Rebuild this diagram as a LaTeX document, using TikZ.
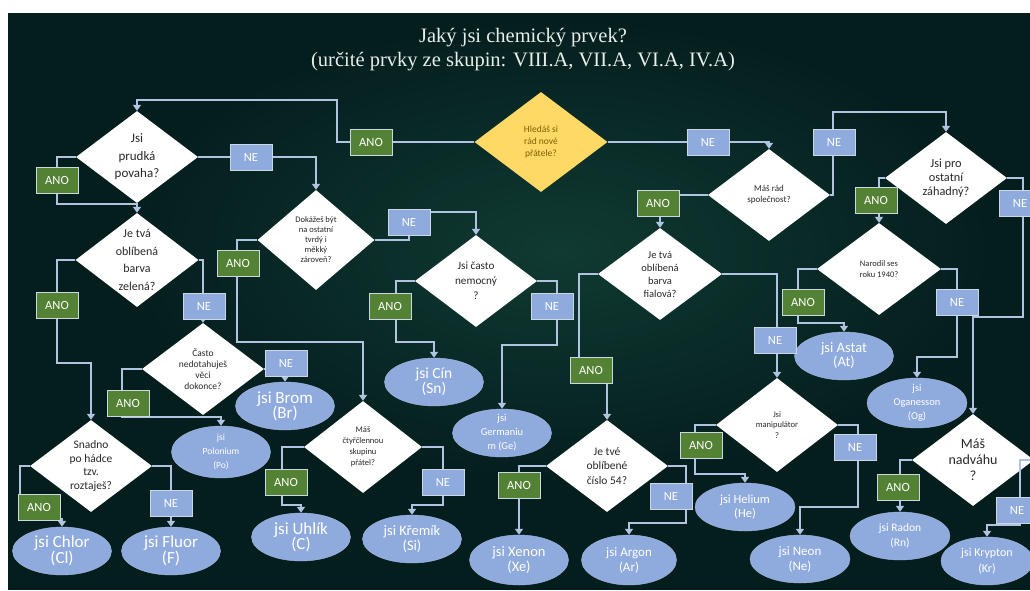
\documentclass[tikz,border=0pt]{standalone}
\usepackage{fontspec}
\setmainfont{Carlito}
\newfontfamily\titlefont{Liberation Serif}
\usetikzlibrary{arrows.meta, shapes.geometric}
\definecolor{BgDark}{RGB}{4,30,30}
\definecolor{BgGlow}{RGB}{16,58,50}
\definecolor{LineBlue}{RGB}{176,196,226}
\definecolor{AnoGreen}{RGB}{84,130,53}
\definecolor{NeBlue}{RGB}{143,170,220}
\definecolor{ResBlue}{RGB}{143,170,220}
\definecolor{BoxEdge}{RGB}{205,215,228}
\definecolor{StartYellow}{RGB}{255,217,102}
\definecolor{StartText}{RGB}{127,96,0}
\definecolor{QuestText}{RGB}{40,40,40}
\definecolor{TitleWhite}{RGB}{232,238,234}
\lineskiplimit=-20pt

\begin{document}
\begin{tikzpicture}[
    x=1pt, y=-1pt,
    fs/.style 2 args={font=\fontsize{#1}{#2}\selectfont},
    question/.style={diamond, fill=white, text=QuestText, align=center,
        minimum width=122pt, minimum height=92pt, inner sep=-60pt},
    result/.style={ellipse, fill=ResBlue, draw=ResBlue!80!white, text=white,
        align=center, minimum width=99pt, minimum height=48pt, inner sep=-60pt},
    answer/.style={draw=BoxEdge, line width=1pt, text=white, inner sep=0pt,
        minimum width=42pt, minimum height=26pt, font=\fontsize{12.5}{14}\selectfont},
    ano/.style={answer, fill=AnoGreen},
    ne/.style={answer, fill=NeBlue},
    flow/.style={-{Triangle[length=6pt, width=8pt]}, line width=2.5pt, LineBlue},
]
\useasboundingbox (0,0) rectangle (1030,590);

% pozadi
\fill[white] (0,0) rectangle (1030,590);
\fill[BgDark] (8,13) rectangle (1030,590);
\shade[inner color=BgGlow, outer color=BgDark] (560,250) ellipse [x radius=430pt, y radius=230pt];

% nadpis
\node[font=\titlefont\fontsize{20.5}{22}\selectfont, text=TitleWhite] (title) at (523,38)
    {Jaký jsi chemický prvek?};
\node[font=\titlefont\fontsize{20.5}{22}\selectfont, text=TitleWhite] (subtitle) at (523,62)
    {(určité prvky ze skupin: VIII.A, VII.A, VI.A, IV.A)};

% otazky
\node[question, fill=StartYellow, text=StartText, minimum width=133pt,
      minimum height=100pt, fs={9.5}{12}] (start) at (541,142) {Hledáš si\\rád nové\\přátele?};
\node[question, fs={13}{17.5}] (prudka) at (137,157) {Jsi\\prudká\\povaha?};
\node[question, minimum width=123pt, minimum height=94pt, fs={12}{17.5}] (zelena) at (137,260)
    {Je tvá\\oblíbená\\barva\\zelená?};
\node[question, minimum width=117pt, minimum height=100pt, fs={8.5}{10}] (tvrdy) at (316,240)
    {Dokážeš být\\na ostatní\\tvrdý i\\měkký\\zároveň?};
\node[question, fs={11.2}{15}] (nemocny) at (476,281) {Jsi často\\nemocný\\?};
\node[question, minimum width=124pt, fs={10.5}{13}] (fialova) at (660,274)
    {Je tvá\\oblíbená\\barva\\fialová?};
\node[question, fs={9}{11}] (spol) at (769,195) {Máš rád\\společnost?};
\node[question, fs={12.3}{14}] (zahadny) at (946,178) {Jsi pro\\ostatní\\záhadný?};
\node[question, minimum width=124pt, fs={8.5}{10.5}] (r1940) at (879,269) {Narodil ses\\roku 1940?};
\node[question, fs={9.5}{11}] (casto) at (203,369) {Často\\nedotahuješ\\věci\\dokonce?};
\node[question, fs={11.5}{13.5}] (hadka) at (91,466) {Snadno\\po hádce\\tzv.\\roztaješ?};
\node[question, minimum width=118pt, fs={8.5}{11}] (ctyr) at (363,447)
    {Máš\\čtyřčlennou\\skupinu\\přátel?};
\node[question, fs={11.5}{14.5}] (cislo) at (607,466) {Je tvé\\oblíbené\\číslo 54?};
\node[question, minimum height=94pt, fs={8.5}{10.5}] (manip) at (777,425) {Jsi\\manipulátor\\?};
\node[question, fs={14}{16}] (nadvaha) at (973,460) {Máš\\nadváhu\\?};

% vysledky
\node[result, fs={17}{15}] (brom) at (285,406) {jsi Brom\\(Br)};
\node[result, minimum height=52pt, fs={9.5}{14}] (polonium) at (221,452) {jsi\\Polonium\\(Po)};
\node[result, fs={17}{16}] (chlor) at (62,551) {jsi Chlor\\(Cl)};
\node[result, fs={17}{16}] (fluor) at (171,551) {jsi Fluor\\(F)};
\node[result, fs={17}{15}] (uhlik) at (301,537) {jsi Uhlík\\(C)};
\node[result, fs={15.5}{15}] (cin) at (434,382) {jsi Cín\\(Sn)};
\node[result, fs={10.5}{14}] (germ) at (502,433) {jsi\\Germaniu\\m (Ge)};
\node[result, fs={14.5}{15}] (kremik) at (412,539) {jsi Křemík\\(Si)};
\node[result, minimum height=50pt, fs={14.5}{15}] (xenon) at (519,560) {jsi Xenon\\(Xe)};
\node[result, minimum width=95pt, minimum height=50pt, fs={13}{15}] (argon) at (629,560) {jsi Argon\\(Ar)};
\node[result, fs={14.5}{14}] (astat) at (844,356) {jsi Astat\\(At)};
\node[result, minimum width=100pt, minimum height=50pt, fs={10.5}{14}] (oganesson) at (917,403)
    {jsi\\Oganesson\\(Og)};
\node[result, minimum width=100pt, fs={12.5}{14}] (helium) at (745,507) {jsi Helium\\(He)};
\node[result, minimum width=100pt, fs={13}{15}] (neon) at (800,559) {jsi Neon\\(Ne)};
\node[result, minimum width=100pt, fs={11.5}{15}] (radon) at (900,536) {jsi Radon\\(Rn)};
\node[result, minimum width=92pt, fs={12}{16}] (krypton) at (987,561) {jsi Krypton\\(Kr)};

% lomy spojnic
\coordinate (k0) at (337,100);
\coordinate (k1) at (57,204);
\coordinate (k2) at (57,363);
\coordinate (k3) at (237,342);
\coordinate (k4) at (409,212);
\coordinate (k5) at (396,342);
\coordinate (k6) at (557,345);
\coordinate (k7) at (122,417);
\coordinate (k8) at (20,519);
\coordinate (k9) at (282,505);
\coordinate (k10) at (443,505);
\coordinate (k11) at (686,523);
\coordinate (k12) at (833,112);
\coordinate (k13) at (579,370);
\coordinate (k14) at (1023,317);
\coordinate (k15) at (798,323);
\coordinate (k16) at (957,357);
\coordinate (k17) at (695,474);
\coordinate (k18) at (858,507);
\coordinate (k19) at (1020,525);

% spojnice
\draw[flow] (start.west) -| (k0) -| (prudka.north);
\draw[flow] (start.east) -| (spol.north);
\draw[flow] (prudka.west) -| (k1) -| (zelena.north);
\draw[flow] (prudka.east) -| (tvrdy.north);
\draw[flow] (zelena.west) -| (k2) -| (hadka.north);
\draw[flow] (zelena.east) -| (casto.north);
\draw[flow] (tvrdy.west) -| (k3) -| (ctyr.north);
\draw[flow] (tvrdy.east) -| (k4) -| (nemocny.north);
\draw[flow] (nemocny.west) -| (k5) -| (cin.north);
\draw[flow] (nemocny.east) -| (k6) -| (germ.north);
\draw[flow] (casto.west) -| (k7) -| (polonium.north);
\draw[flow] (casto.east) -| (brom.north);
\draw[flow] (hadka.west) -| (k8) -| (chlor.north);
\draw[flow] (hadka.east) -| (fluor.north);
\draw[flow] (ctyr.west) -| (k9) -| (uhlik.north);
\draw[flow] (ctyr.east) -| (k10) -| (kremik.north);
\draw[flow] (cislo.west) -| (xenon.north);
\draw[flow] (cislo.east) -| (k11) -| (argon.north);
\draw[flow] (spol.west) -| (fialova.north);
\draw[flow] (spol.east) -| (k12) -| (zahadny.north);
\draw[flow] (fialova.west) -| (k13) -| (cislo.north);
\draw[flow] (fialova.east) -| (manip.north);
\draw[flow] (zahadny.west) -| (r1940.north);
\draw[flow] (zahadny.east) -| (k14) -| (nadvaha.north);
\draw[flow] (r1940.west) -| (k15) -| (astat.north);
\draw[flow] (r1940.east) -| (k16) -| (oganesson.north);
\draw[flow] (manip.west) -| (k17) -| (helium.north);
\draw[flow] (manip.east) -| (k18) -| (neon.north);
\draw[flow] (nadvaha.west) -| (radon.north);
\draw[flow] (nadvaha.east) -| (k19) -| (krypton.north);

% odpovedi ANO / NE
\node[ano] (ano0) at (371,142) {ANO};
\node[ne] (ne0) at (708,142) {NE};
\node[ano] (ano1) at (57,180) {ANO};
\node[ne] (ne1) at (251,157) {NE};
\node[ano] (ano2) at (57,305) {ANO};
\node[ne] (ne2) at (204,306) {NE};
\node[ano] (ano3) at (238,263) {ANO};
\node[ne] (ne3) at (409,222) {NE};
\node[ano] (ano4) at (390,306) {ANO};
\node[ne] (ne4) at (552,306) {NE};
\node[ano] (ano5) at (128,403) {ANO};
\node[ne] (ne5) at (286,363) {NE};
\node[ano] (ano6) at (39,507) {ANO};
\node[ne] (ne6) at (171,503) {NE};
\node[ano] (ano7) at (286,482) {ANO};
\node[ne] (ne7) at (443,482) {NE};
\node[ano] (ano8) at (519,485) {ANO};
\node[ne] (ne8) at (671,496) {NE};
\node[ano] (ano9) at (591,370) {ANO};
\node[ne] (ne9) at (775,340) {NE};
\node[ano] (ano10) at (658,203) {ANO};
\node[ne] (ne10) at (834,142) {NE};
\node[ano] (ano11) at (876,200) {ANO};
\node[ne] (ne11) at (1020,203) {NE};
\node[ano] (ano12) at (803,302) {ANO};
\node[ne] (ne12) at (957,302) {NE};
\node[ano] (ano13) at (701,445) {ANO};
\node[ne] (ne13) at (855,447) {NE};
\node[ano] (ano14) at (898,487) {ANO};
\node[ne] (ne14) at (1017,510) {NE};

\end{tikzpicture}
\end{document}
